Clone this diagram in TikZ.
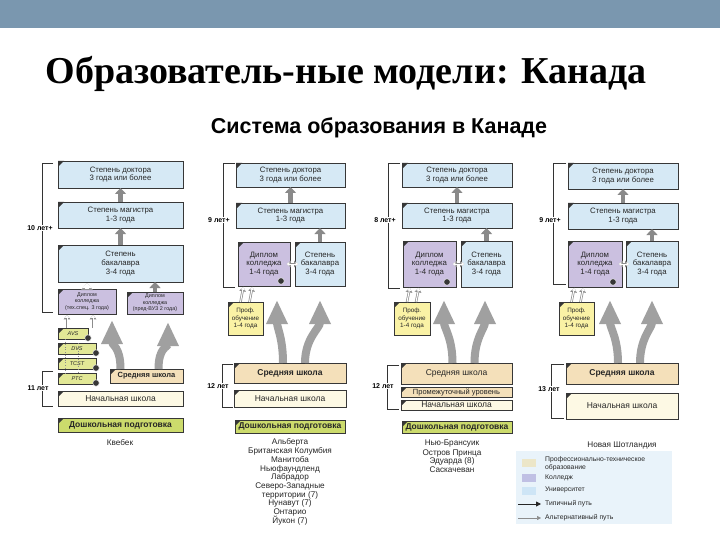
\documentclass[tikz,border=0pt]{standalone}
\usepackage{fontspec}
\setmainfont{Liberation Sans}
\newfontfamily\titlefont{Liberation Serif}
\usetikzlibrary{arrows.meta,shadows}
\definecolor{barc}{RGB}{122,151,175}
\definecolor{bordc}{RGB}{55,55,55}
\definecolor{ublue}{RGB}{214,233,245}
\definecolor{lav}{RGB}{203,192,224}
\definecolor{beige}{RGB}{244,224,186}
\definecolor{cream}{RGB}{253,249,228}
\definecolor{doshc}{RGB}{204,219,108}
\definecolor{smallc}{RGB}{226,232,150}
\definecolor{profc}{RGB}{250,242,165}
\definecolor{arrc}{RGB}{138,138,138}
\definecolor{bigc}{RGB}{160,160,160}
\definecolor{legbg}{RGB}{233,243,250}
\definecolor{legbeige}{RGB}{236,230,200}
\definecolor{leglav}{RGB}{192,192,228}
\definecolor{legblue}{RGB}{206,229,246}
\newcommand\bx[7]{\node[#6, minimum width={(#4-#2)*1pt}, minimum height={(#5-#3)*1pt}] (#1) at ({(#2+#4)/2},{(#3+#5)/2}) {#7};}
\tikzset{
 base/.style={draw=bordc, line width=0.9pt, inner sep=0.5pt, outer sep=0pt, align=center, text=black!85,
   drop shadow={shadow xshift=1.2pt, shadow yshift=-1.2pt, fill=black!50},
   path picture={\fill[bordc] (path picture bounding box.north west) -- ++(6pt,0pt) -- ++(-6pt,-6pt) -- cycle;}},
 ubox/.style={base, fill=ublue, font=\fontsize{7.8}{8.8}\selectfont},
 cbox/.style={base, fill=lav, font=\fontsize{7.8}{8.8}\selectfont},
 tcbox/.style={base, fill=lav, font=\fontsize{5.4}{6.3}\selectfont},
 sbox/.style={base, fill=smallc, font=\itshape\fontsize{5.5}{6}\selectfont},
 pbox/.style={base, fill=profc, font=\fontsize{6.3}{7.2}\selectfont},
 srbox/.style={base, fill=beige, font=\bfseries\fontsize{8.5}{9}\selectfont},
 nbox/.style={base, fill=cream, font=\fontsize{8.5}{9}\selectfont},
 prbox/.style={base, fill=beige, font=\fontsize{7.5}{8}\selectfont},
 dbox/.style={base, fill=doshc, font=\bfseries\fontsize{8.5}{9}\selectfont},
 numc/.style={circle, fill=bordc, draw=white, line width=0.4pt, minimum size=6.5pt, inner sep=0pt},
 brk/.style={draw=black!80, line width=0.8pt},
 brklab/.style={fill=white, inner sep=1pt, font=\bfseries\fontsize{7}{8}\selectfont},
 garrow/.style={draw=arrc, line width=4.5pt, -{Triangle[width=11pt,length=6pt]}},
 bigarrow/.style={draw=bigc, line width=8pt, -{Triangle[width=20pt,length=24pt]}},
 altbig/.style={preaction={draw=black!45, line width=5.5pt, -{Triangle[width=12pt,length=7pt]}},
   draw=white, line width=3.5pt, -{Triangle[width=9pt,length=5pt]}, shorten >=1.2pt},
 altsmall/.style={preaction={draw=black!45, line width=2.4pt, -{Triangle[width=6.5pt,length=4.5pt]}},
   draw=white, line width=1pt, -{Triangle[width=4pt,length=3pt]}, shorten >=0.8pt},
 altboth/.style={preaction={draw=black!45, line width=2.4pt, {Triangle[width=6.5pt,length=4pt]}-{Triangle[width=6.5pt,length=4pt]}},
   draw=white, line width=1pt, {Triangle[width=4pt,length=2.6pt]}-{Triangle[width=4pt,length=2.6pt]}, shorten >=0.8pt, shorten <=0.8pt},
 prov/.style={font=\fontsize{8.2}{9}\selectfont, inner sep=0pt, text=black!85},
 legt/.style={anchor=west, font=\fontsize{6.8}{7.5}\selectfont, inner sep=0pt, text=black!85}
}
\begin{document}
\begin{tikzpicture}[x=1pt,y=-1pt]
\useasboundingbox (0,0) rectangle (720,540);
\fill[white] (0,0) rectangle (720,540);
\fill[barc] (0,0) rectangle (720,28);
\node[font=\titlefont\bfseries\fontsize{38}{42}\selectfont] (title) at (346,74) {Образователь-ные модели: Канада};
\node[font=\bfseries\fontsize{21.5}{24}\selectfont] (sub) at (379,128) {Система образования в Канаде};

% ---------------- Column 1 (Quebec)
\draw[brk] (53,163) -- (42,163) -- (42,312) -- (53,312);
\node[brklab] (l1a) at (40,228) {10 лет+};
\draw[brk] (53,371) -- (42,371) -- (42,406) -- (53,406);
\node[brklab] (l1b) at (38,388) {11 лет};
\bx{doc1}{58}{161}{183}{188}{ubox}{Степень доктора\\3 года или более}
\bx{mag1}{58}{202}{183}{228}{ubox}{Степень магистра\\1-3 года}
\bx{bac1}{58}{245}{183}{282}{ubox}{Степень\\бакалавра\\3-4 года}
\bx{dipA1}{58}{289}{116}{314}{tcbox}{Диплом\\колледжа\\(тех.спец. 3 года)}
\bx{dipB1}{127}{292}{183}{314}{tcbox}{Диплом\\колледжа\\(пред-ВУЗ 2 года)}
\bx{avs}{58}{328}{88}{339}{sbox}{AVS}
\bx{dvs}{58}{343}{96}{354}{sbox}{DVS}
\bx{tcst}{58}{358}{96}{369}{sbox}{TCST}
\bx{ptc}{58}{373}{96}{384}{sbox}{PTC}
\node[numc] (n1) at (88,338) {};
\node[numc] (n2) at (96,353) {};
\node[numc] (n3) at (96,368) {};
\node[numc] (n4) at (96,383) {};
\bx{sr1}{110}{369}{183}{383}{srbox,font=\bfseries\fontsize{7.5}{8}\selectfont}{Средняя школа}
\bx{nach1}{58}{391}{183}{406}{nbox}{Начальная школа}
\bx{dosh1}{58}{418}{183}{432}{dbox}{Дошкольная подготовка}
\node[prov] (q1) at (120,443) {Квебек};
\draw[garrow] (mag1.north) -- (doc1.south);
\draw[garrow] (bac1.north) -- (mag1.south);
\draw[garrow] (dipB1.north) -- (dipB1.north |- bac1.south);
\draw[altbig] (dipA1.north) -- (dipA1.north |- bac1.south);
\draw[black!45, dotted, line width=0.6pt] ([xshift=-8pt]avs.south) -- ([xshift=-8pt]avs.south |- ptc.north);
\draw[black!45, dotted, line width=0.6pt] ([xshift=20pt]dvs.north west) -- ([xshift=20pt]dvs.north west |- ptc.north);
\draw[altsmall] ([xshift=-6pt]avs.north) -- ([xshift=-6pt]avs.north |- dipA1.south);
\draw[altsmall] ([xshift=35pt]avs.north west) -- ([xshift=35pt]avs.north west |- dipA1.south);
\coordinate (t1a) at (112,320);
\coordinate (t1b) at (168,322);
\draw[bigarrow] ([xshift=-26pt]sr1.north) .. controls +(0,-22) and +(0,25) .. (t1a);
\draw[bigarrow] ([xshift=12pt]sr1.north) .. controls +(0,-22) and +(0,25) .. (t1b);

% ---------------- Column 2
\draw[brk] (235,163) -- (223,163) -- (223,287) -- (235,287);
\node[brklab] (l2a) at (219,220) {9 лет+};
\draw[brk] (233,364) -- (222,364) -- (222,407) -- (233,407);
\node[brklab] (l2b) at (218,386) {12 лет};
\bx{doc2}{236}{163}{345}{187}{ubox}{Степень доктора\\3 года или более}
\bx{mag2}{236}{203}{345}{228}{ubox}{Степень магистра\\1-3 года}
\bx{dip2}{238}{242}{290}{286}{cbox}{Диплом\\колледжа\\1-4 года}
\bx{bac2}{295}{242}{345}{286}{ubox}{Степень\\бакалавра\\3-4 года}
\node[numc] (n5) at (281,281) {};
\bx{prof2}{228}{302}{263}{335}{pbox}{Проф.\\обучение\\1-4 года}
\bx{sr2}{234}{363}{346}{383}{srbox}{Средняя школа}
\bx{nach2}{234}{390}{346}{407}{nbox}{Начальная школа}
\bx{dosh2}{235}{420}{345}{433}{dbox}{Дошкольная подготовка}
\draw[garrow] (mag2.north) -- (doc2.south);
\draw[garrow] (bac2.north) -- (bac2.north |- mag2.south);
\draw[altboth] ([xshift=-4pt]dip2.east) -- ([xshift=4pt]bac2.west);
\draw[altsmall] ([xshift=-5pt]prof2.north) -- ([xshift=-2pt]dip2.south -| prof2.north);
\draw[altsmall] ([xshift=4pt]prof2.north) -- ([xshift=7pt]dip2.south -| prof2.north);
\coordinate (t2a) at (277,300);
\coordinate (t2b) at (320,300);
\draw[bigarrow] ([xshift=-7pt]sr2.north) .. controls +(0,-25) and +(0,28) .. (t2a);
\draw[bigarrow] ([xshift=15pt]sr2.north) .. controls +(0,-25) and +(0,28) .. (t2b);
\node[prov] (p1) at (290,442) {Альберта};
\node[prov] (p2) at (290,451) {Британская Колумбия};
\node[prov] (p3) at (290,460) {Манитоба};
\node[prov] (p4) at (290,469) {Ньюфаундленд};
\node[prov] (p5) at (290,477.5) {Лабрадор};
\node[prov] (p6) at (290,486) {Северо-Западные};
\node[prov] (p7) at (290,495) {территории (7)};
\node[prov] (p8) at (290,503.5) {Нунавут (7)};
\node[prov] (p9) at (290,512) {Онтарио};
\node[prov] (p10) at (290,521) {Йукон (7)};

% ---------------- Column 3
\draw[brk] (400,163) -- (388,163) -- (388,288) -- (400,288);
\node[brklab] (l3a) at (385,220) {8 лет+};
\draw[brk] (399,365) -- (387,365) -- (387,409) -- (399,409);
\node[brklab] (l3b) at (383,386) {12 лет};
\bx{doc3}{402}{163}{512}{187}{ubox}{Степень доктора\\3 года или более}
\bx{mag3}{402}{203}{512}{228}{ubox}{Степень магистра\\1-3 года}
\bx{dip3}{403}{241}{456}{287}{cbox}{Диплом\\колледжа\\1-4 года}
\bx{bac3}{461}{241}{512}{287}{ubox}{Степень\\бакалавра\\3-4 года}
\node[numc] (n6) at (447,282) {};
\bx{prof3}{394}{302}{430}{335}{pbox}{Проф.\\обучение\\1-4 года}
\bx{sr3}{401}{363}{512}{384}{nbox,fill=beige}{Средняя школа}
\bx{prom3}{401}{387}{512}{397}{prbox}{Промежуточный уровень}
\bx{nach3}{401}{400}{512}{410}{nbox}{Начальная школа}
\bx{dosh3}{402}{421}{512}{433}{dbox}{Дошкольная подготовка}
\draw[garrow] (mag3.north) -- (doc3.south);
\draw[garrow] (bac3.north) -- (bac3.north |- mag3.south);
\draw[altboth] ([xshift=-4pt]dip3.east) -- ([xshift=4pt]bac3.west);
\draw[altsmall] ([xshift=-5pt]prof3.north) -- ([xshift=-2pt]dip3.south -| prof3.north);
\draw[altsmall] ([xshift=4pt]prof3.north) -- ([xshift=7pt]dip3.south -| prof3.north);
\coordinate (t3a) at (444,300);
\coordinate (t3b) at (485,300);
\draw[bigarrow] ([xshift=-4pt]sr3.north) .. controls +(0,-25) and +(0,28) .. (t3a);
\draw[bigarrow] ([xshift=18pt]sr3.north) .. controls +(0,-25) and +(0,28) .. (t3b);
\node[prov] (p11) at (452,444) {Нью-Брансуик};
\node[prov] (p12) at (452,453) {Остров Принца};
\node[prov] (p13) at (452,461.5) {Эдуарда (8)};
\node[prov] (p14) at (452,470) {Саскачеван};

% ---------------- Column 4
\draw[brk] (566,163) -- (553,163) -- (553,284) -- (566,284);
\node[brklab] (l4a) at (550,220) {9 лет+};
\draw[brk] (564,364) -- (551,364) -- (551,418) -- (564,418);
\node[brklab] (l4b) at (549,389) {13 лет};
\bx{doc4}{568}{163}{678}{189}{ubox}{Степень доктора\\3 года или более}
\bx{mag4}{568}{203}{678}{229}{ubox}{Степень магистра\\1-3 года}
\bx{dip4}{568}{241}{622}{287}{cbox}{Диплом\\колледжа\\1-4 года}
\bx{bac4}{626}{241}{678}{287}{ubox}{Степень\\бакалавра\\3-4 года}
\node[numc] (n7) at (613,282) {};
\bx{prof4}{559}{302}{594}{335}{pbox}{Проф.\\обучение\\1-4 года}
\bx{sr4}{566}{363}{678}{384}{srbox}{Средняя школа}
\bx{nach4}{566}{393}{678}{419}{nbox}{Начальная школа}
\draw[garrow] (mag4.north) -- (doc4.south);
\draw[garrow] (bac4.north) -- (bac4.north |- mag4.south);
\draw[altboth] ([xshift=-4pt]dip4.east) -- ([xshift=4pt]bac4.west);
\draw[altsmall] ([xshift=-5pt]prof4.north) -- ([xshift=-2pt]dip4.south -| prof4.north);
\draw[altsmall] ([xshift=4pt]prof4.north) -- ([xshift=7pt]dip4.south -| prof4.north);
\coordinate (t4a) at (610,300);
\coordinate (t4b) at (652,300);
\draw[bigarrow] ([xshift=-4pt]sr4.north) .. controls +(0,-25) and +(0,28) .. (t4a);
\draw[bigarrow] ([xshift=18pt]sr4.north) .. controls +(0,-25) and +(0,28) .. (t4b);
\node[prov] (p15) at (622,445) {Новая Шотландия};

% ---------------- Legend
\fill[legbg] (516,451) rectangle (672,524);
\fill[legbeige] (522,459) rectangle (536,467);
\fill[leglav] (522,474) rectangle (536,482);
\fill[legblue] (522,487) rectangle (536,495);
\node[legt] (g1) at (545,460) {Профессионально-техническое};
\node[legt] (g2) at (545,468) {образование};
\node[legt] (g3) at (545,478) {Колледж};
\node[legt] (g4) at (545,490) {Университет};
\node[legt] (g5) at (545,504) {Типичный путь};
\node[legt] (g6) at (545,518) {Альтернативный путь};
\coordinate (la1) at (518,504);
\coordinate (la2) at (541,504);
\coordinate (lb1) at (518,518);
\coordinate (lb2) at (541,518);
\draw[line width=0.9pt, black!85, -{Triangle[width=5pt,length=5pt]}] (la1) -- (la2);
\draw[line width=0.5pt, black!45, -{Triangle[width=4pt,length=4pt]}] (lb1) -- (lb2);
\end{tikzpicture}
\end{document}
